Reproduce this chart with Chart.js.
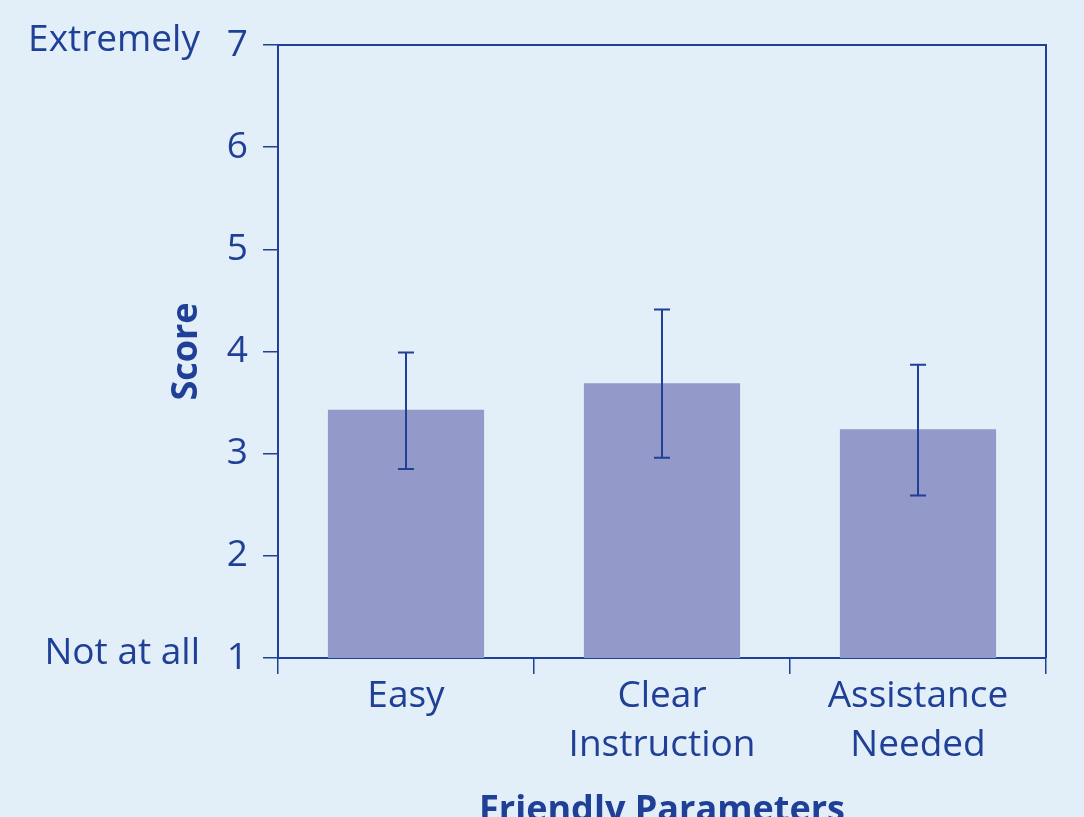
<!DOCTYPE html>
<html>
<head>
<meta charset="utf-8">
<script src="https://cdn.jsdelivr.net/npm/chart.js@4.4.1/dist/chart.umd.min.js"></script>
<style>
  html, body { margin: 0; padding: 0; background: #e2eef8; }
  #wrap { width: 1084px; height: 817px; }
</style>
</head>
<body>
<div id="wrap"><canvas id="c" width="1084" height="817"></canvas></div>
<script>
// Mean friendliness scores with error-bar limits
const categories = [['Easy'], ['Clear', 'Instruction'], ['Assistance', 'Needed']];
const meanScores = [3.43, 3.69, 3.24];
const errLow = [2.85, 2.96, 2.59];
const errHigh = [3.99, 4.41, 3.87];
const yTicks = [1, 2, 3, 4, 5, 6, 7];
const scaleEndLabels = { 1: 'Not at all', 7: 'Extremely' };

const INK = '#1f4096';
const FONT = "'Open Sans', 'DejaVu Sans', sans-serif";

// error bars drawn from errLow/errHigh through the y scale
const errorBars = {
  id: 'errorBars',
  afterDatasetsDraw(chart) {
    const ctx = chart.ctx;
    const y = chart.scales.y;
    const meta = chart.getDatasetMeta(0);
    ctx.save();
    ctx.strokeStyle = INK;
    ctx.lineWidth = 2;
    meta.data.forEach((bar, i) => {
      const x = bar.x;
      const yl = y.getPixelForValue(errLow[i]);
      const yh = y.getPixelForValue(errHigh[i]);
      ctx.beginPath();
      ctx.moveTo(x, yl); ctx.lineTo(x, yh);
      ctx.moveTo(x - 8, yl); ctx.lineTo(x + 8, yl);
      ctx.moveTo(x - 8, yh); ctx.lineTo(x + 8, yh);
      ctx.stroke();
    });
    ctx.restore();
  }
};

// top/right frame lines and the verbal anchors of the rating scale
const frameAndAnchors = {
  id: 'frameAndAnchors',
  afterDraw(chart) {
    const ctx = chart.ctx;
    const a = chart.chartArea;
    const y = chart.scales.y;
    ctx.save();
    ctx.strokeStyle = INK;
    ctx.lineWidth = 2;
    ctx.beginPath();
    ctx.moveTo(a.left, a.top);
    ctx.lineTo(a.right, a.top);
    ctx.lineTo(a.right, a.bottom);
    ctx.stroke();
    ctx.fillStyle = INK;
    ctx.font = "37px " + FONT;
    ctx.textAlign = 'right';
    ctx.textBaseline = 'middle';
    Object.keys(scaleEndLabels).forEach(v => {
      ctx.fillText(scaleEndLabels[v], 200, y.getPixelForValue(Number(v)) - 5);
    });
    ctx.restore();
  }
};

new Chart(document.getElementById('c'), {
  type: 'bar',
  data: {
    labels: categories,
    datasets: [{
      data: meanScores,
      backgroundColor: '#9399c9',
      borderWidth: 0,
      barPercentage: 0.61,
      categoryPercentage: 1.0
    }]
  },
  options: {
    responsive: false,
    animation: false,
    layout: { padding: { left: 169, top: 45, right: 38, bottom: 0 } },
    plugins: { legend: { display: false }, tooltip: { enabled: false } },
    scales: {
      x: {
        offset: true,
        grid: { offset: true, drawOnChartArea: false, drawTicks: true, tickLength: 16, color: INK, lineWidth: 1.5 },
        border: { display: true, color: INK, width: 2 },
        ticks: { color: INK, font: { family: FONT, size: 37, lineHeight: 1.32 }, padding: -2, maxRotation: 0, autoSkip: false },
        title: { display: true, text: 'Friendly Parameters', color: INK, font: { family: FONT, size: 36, weight: 'bold', lineHeight: 0.36 }, padding: 0 },
        afterFit(s) { s.height = 159; }
      },
      y: {
        min: 1, max: 7,
        afterBuildTicks(s) { s.ticks = yTicks.map(v => ({ value: v })); },
        grid: { drawOnChartArea: false, drawTicks: true, tickLength: 15, color: INK, lineWidth: 1.5 },
        border: { display: true, color: INK, width: 2 },
        ticks: { color: INK, font: { family: FONT, size: 37 }, padding: 15 },
        title: { display: true, text: 'Score', color: INK, font: { family: FONT, size: 36, weight: 'bold', lineHeight: 1 }, padding: 0 },
        afterFit(s) { s.width = 109; }
      }
    }
  },
  plugins: [errorBars, frameAndAnchors]
});
</script>
</body>
</html>
